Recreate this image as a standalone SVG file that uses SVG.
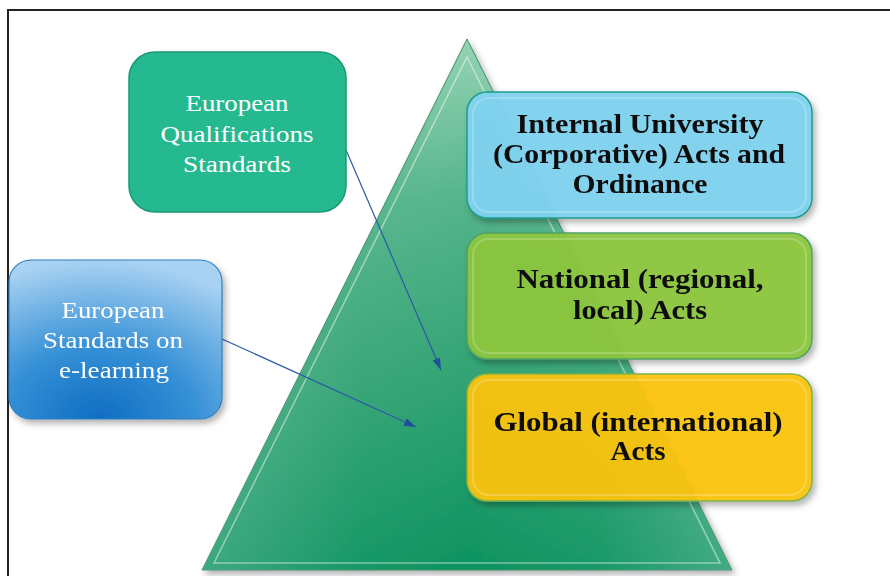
<svg xmlns="http://www.w3.org/2000/svg" width="890" height="576" viewBox="0 0 890 576">
<defs>
<style>
.lt{font-family:"Liberation Serif","Times New Roman",serif;font-size:23px;fill:#ffffff;text-anchor:middle}
.rt{font-family:"Liberation Serif","Times New Roman",serif;font-size:27px;font-weight:bold;fill:#111111;text-anchor:middle}
.conn{stroke:#2a5aa8;stroke-width:1.2;fill:none}
.bevel{fill:none;stroke:#ffffff;stroke-opacity:0.2;stroke-width:2}
.tbevel{fill:none;stroke:#ffffff;stroke-opacity:0.45;stroke-width:1.6}
</style>
<linearGradient id="triV" x1="0" y1="0" x2="0" y2="1">
<stop offset="0" stop-color="#95d3b4"/>
<stop offset="0.3" stop-color="#55b58b"/>
<stop offset="0.6" stop-color="#36a576"/>
<stop offset="1" stop-color="#0d9360"/>
</linearGradient>
<linearGradient id="triH" x1="0" y1="0" x2="1" y2="0">
<stop offset="0" stop-color="#ffffff" stop-opacity="0.2"/>
<stop offset="0.3" stop-color="#ffffff" stop-opacity="0.04"/>
<stop offset="0.5" stop-color="#ffffff" stop-opacity="0"/>
<stop offset="0.75" stop-color="#ffffff" stop-opacity="0.05"/>
<stop offset="1" stop-color="#ffffff" stop-opacity="0.22"/>
</linearGradient>
<radialGradient id="blueG" cx="0.42" cy="1" r="1" fx="0.42" fy="1">
<stop offset="0" stop-color="#0f6dc2"/>
<stop offset="0.45" stop-color="#3590d6"/>
<stop offset="1" stop-color="#a9d2f2"/>
</radialGradient>
<filter id="sh" x="-10%" y="-10%" width="125%" height="130%">
<feDropShadow dx="3" dy="4" stdDeviation="3" flood-color="#000000" flood-opacity="0.3"/>
</filter>
<marker id="arr" viewBox="0 0 12 8" refX="12" refY="4" markerWidth="12" markerHeight="8" orient="auto" markerUnits="userSpaceOnUse">
<path d="M0,0 L12,4 L0,8 z" fill="#1f4e9a"/>
</marker>
</defs>
<rect x="0" y="0" width="890" height="576" fill="#ffffff"/>
<path d="M8,576 L8,10 L890,10" fill="none" stroke="#222222" stroke-width="2"/>

<g id="pyramid" filter="url(#sh)">
<polygon points="467,39 732,570 202,570" fill="url(#triV)" stroke="#3f8a68" stroke-width="1"/>
<polygon points="467,39 732,570 202,570" fill="url(#triH)"/>
<polygon points="467,57 720,563 214,563" class="tbevel"/>
</g>

<g id="connectors">
<line class="conn" x1="346" y1="150" x2="441" y2="370" marker-end="url(#arr)"/>
<line class="conn" x1="222" y1="339" x2="416" y2="427" marker-end="url(#arr)"/>
</g>

<g id="eqs">
<rect x="129" y="52" width="217" height="160" rx="26" fill="#25b98f" stroke="#1a9a72" stroke-width="1.5"/>
<text class="lt" x="237" y="111" textLength="103" lengthAdjust="spacingAndGlyphs">European</text>
<text class="lt" x="237" y="142" textLength="153" lengthAdjust="spacingAndGlyphs">Qualifications</text>
<text class="lt" x="237" y="172" textLength="108" lengthAdjust="spacingAndGlyphs">Standards</text>
</g>

<g id="ese" filter="url(#sh)">
<rect x="9" y="260" width="213" height="159" rx="22" fill="url(#blueG)" stroke="#2a7fc0" stroke-width="1.2"/>
<text class="lt" x="113" y="318" textLength="103" lengthAdjust="spacingAndGlyphs">European</text>
<text class="lt" x="113" y="348" textLength="140" lengthAdjust="spacingAndGlyphs">Standards on</text>
<text class="lt" x="114" y="378" textLength="110" lengthAdjust="spacingAndGlyphs">e-learning</text>
</g>

<g id="internal" filter="url(#sh)">
<rect x="467" y="92" width="345" height="126" rx="20" fill="#7fd3f0" fill-opacity="0.95" stroke="#1f9c88" stroke-width="1.5"/>
<rect x="473" y="98" width="333" height="114" rx="16" class="bevel"/>
<text class="rt" x="640" y="133" textLength="247" lengthAdjust="spacingAndGlyphs">Internal University</text>
<text class="rt" x="639" y="163" textLength="292" lengthAdjust="spacingAndGlyphs">(Corporative) Acts and</text>
<text class="rt" x="640" y="193" textLength="135" lengthAdjust="spacingAndGlyphs">Ordinance</text>
</g>

<g id="national" filter="url(#sh)">
<rect x="467" y="233" width="345" height="126" rx="20" fill="#8cc63f" fill-opacity="0.95" stroke="#4fa06a" stroke-width="1.5"/>
<rect x="473" y="239" width="333" height="114" rx="16" class="bevel"/>
<text class="rt" x="640" y="288" textLength="247" lengthAdjust="spacingAndGlyphs">National (regional,</text>
<text class="rt" x="640" y="319" textLength="134" lengthAdjust="spacingAndGlyphs">local) Acts</text>
</g>

<g id="global" filter="url(#sh)">
<rect x="467" y="374" width="345" height="127" rx="20" fill="#fcc512" fill-opacity="0.94" stroke="#7fb24a" stroke-width="1.5"/>
<rect x="473" y="380" width="333" height="115" rx="16" class="bevel"/>
<text class="rt" x="638" y="431" textLength="289" lengthAdjust="spacingAndGlyphs">Global (international)</text>
<text class="rt" x="638" y="460" textLength="55" lengthAdjust="spacingAndGlyphs">Acts</text>
</g>
</svg>
